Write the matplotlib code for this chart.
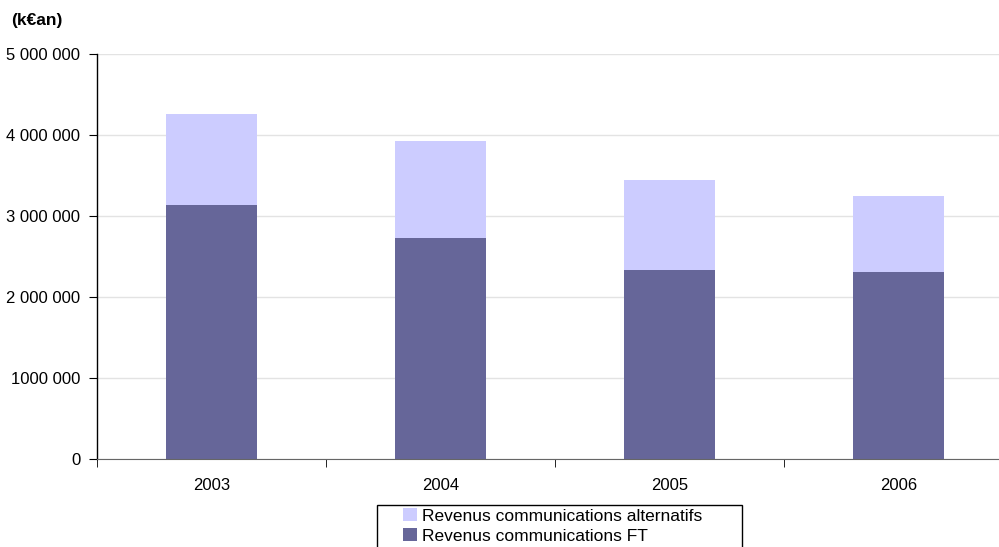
import matplotlib.pyplot as plt
import numpy as np
from matplotlib.ticker import FixedLocator
from matplotlib.patches import Rectangle

plt.rcParams['font.family'] = ['Liberation Sans', 'DejaVu Sans']

# data (k€/an)
years = ['2003', '2004', '2005', '2006']
revenus_ft = [3136000, 2728000, 2333000, 2309000]
revenus_alt = [1124000, 1198000, 1111000, 938000]
y_ticks = [0, 1000000, 2000000, 3000000, 4000000, 5000000]
y_labels = ['0', '1000 000', '2 000 000', '3 000 000', '4 000 000', '5 000 000']

col_ft = '#666699'
col_alt = '#CCCCFF'

fig = plt.figure(figsize=(9.99, 5.47), dpi=100)
ax = fig.add_axes([0.0971, 0.1609, 0.9169, 0.7404])

x = np.arange(len(years))
bar_w = 0.4
b_ft = ax.bar(x, revenus_ft, bar_w, color=col_ft, label='Revenus communications FT', zorder=2)
b_alt = ax.bar(x, revenus_alt, bar_w, bottom=revenus_ft, color=col_alt,
               label='Revenus communications alternatifs', zorder=2)

ax.set_xlim(-0.5, len(years) - 0.5)
ax.set_ylim(0, 5000000)
ax.set_yticks(y_ticks)
ax.set_yticklabels(y_labels, fontsize=12)
ax.set_xticks(x)
ax.set_xticklabels(years, fontsize=12)
ax.xaxis.set_minor_locator(FixedLocator(np.arange(-0.5, len(years), 1.0)))
ax.tick_params(axis='x', which='major', length=0, pad=14)
ax.tick_params(axis='x', which='minor', length=6, direction='out')
ax.tick_params(axis='y', length=6, direction='out', pad=6)

ax.grid(axis='y', color='#e3e3e3', linewidth=1, zorder=0)
for s in ['top', 'right']:
    ax.spines[s].set_visible(False)
ax.spines['left'].set_linewidth(1)
ax.spines['bottom'].set_color('#666666')

fig.text(0.011, 0.963, '(k€an)', fontsize=12.5, fontweight='bold', ha='left', va='center')

# legend box runs past the bottom of the figure in the original
fig.patches.append(Rectangle((377 / 999, -0.05), (742 - 377) / 999, 0.05 + (547 - 505) / 547,
                             transform=fig.transFigure, facecolor='white',
                             edgecolor='black', linewidth=1, zorder=3))
leg = fig.legend([b_alt, b_ft],
                 ['Revenus communications alternatifs', 'Revenus communications FT'],
                 loc='upper left', bbox_to_anchor=(403 / 999, 1 - 508 / 547), fontsize=12.5,
                 frameon=False, handlelength=0.8, handleheight=0.8, handletextpad=0.3,
                 borderpad=0, labelspacing=0.25, borderaxespad=0)
leg.set_zorder(4)

plt.savefig('out.png', dpi=100)
